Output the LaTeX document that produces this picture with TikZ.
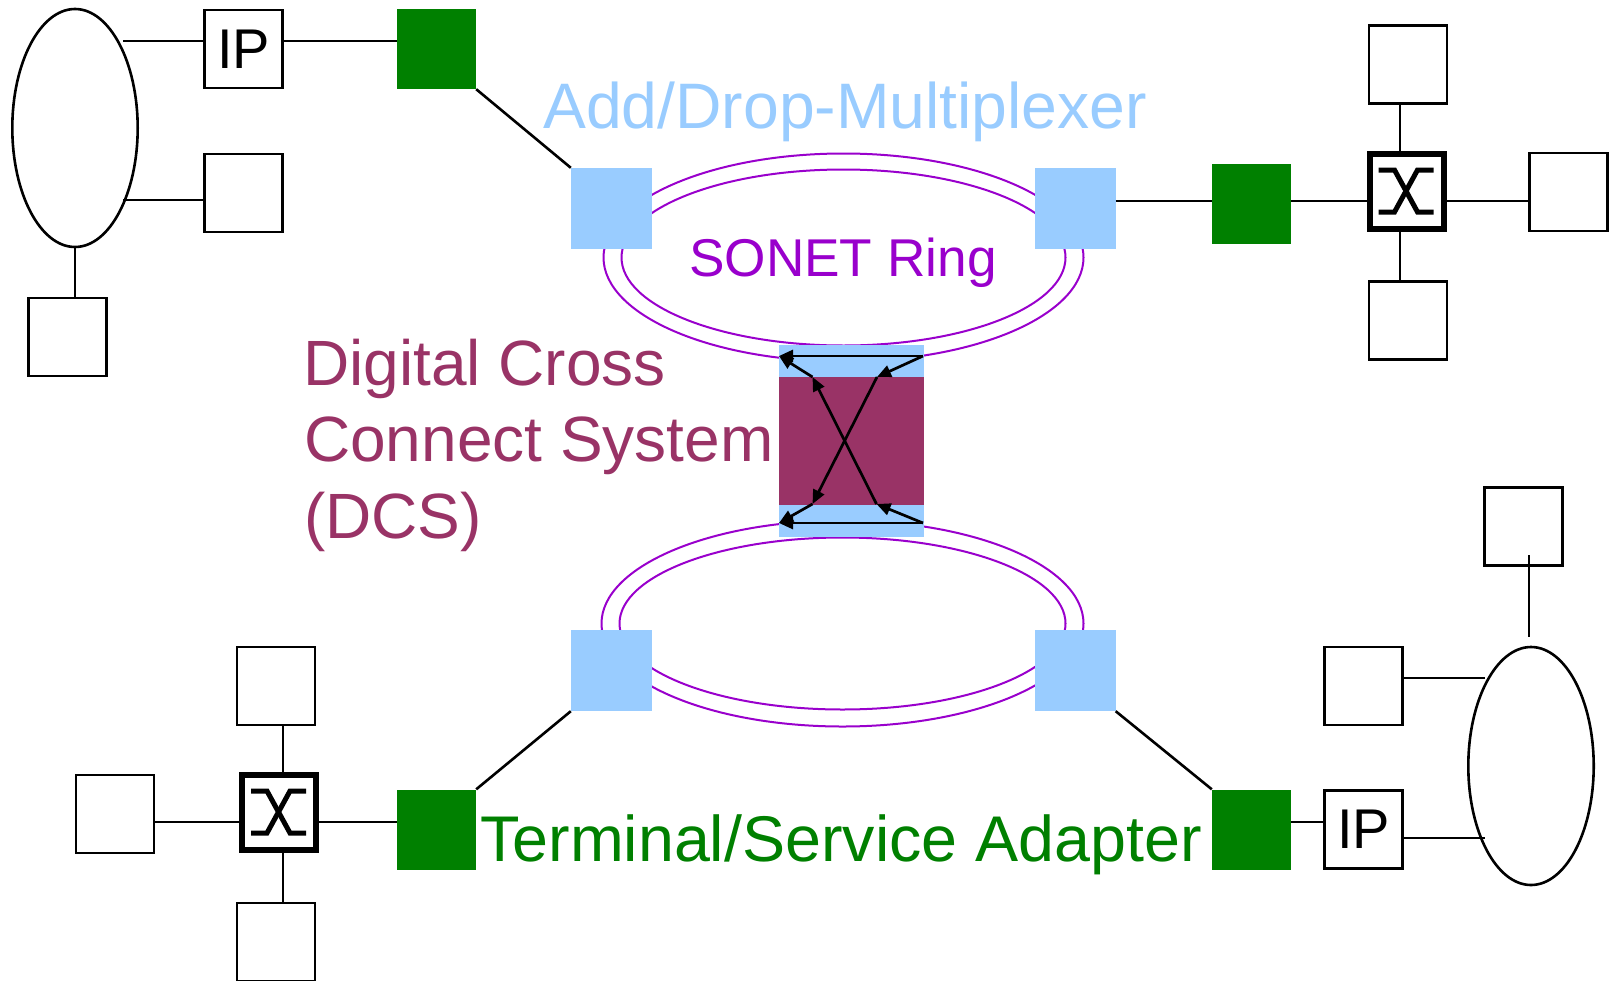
\documentclass[tikz,border=0pt]{standalone}
\usepackage{fontspec}
\setmainfont{Liberation Sans}
\usetikzlibrary{shapes.geometric,calc,arrows.meta}
\definecolor{admblue}{HTML}{99CCFF}
\definecolor{tagreen}{HTML}{008000}
\definecolor{dcsred}{HTML}{993366}
\definecolor{ringpurple}{HTML}{9900CC}
\tikzset{
  conn/.style={line width=2.6pt, draw=black},
  plainbox/.style={draw, line width=2.6pt, minimum width=78pt, minimum height=78pt, inner sep=0pt, font=\fontsize{56}{60}\selectfont},
  greenbox/.style={fill=tagreen, minimum width=79pt, minimum height=80pt, inner sep=0pt},
  admbox/.style={fill=admblue, minimum width=81pt, minimum height=81pt, inner sep=0pt},
  xbox/.style={draw, line width=6pt, minimum width=74pt, minimum height=75pt, inner sep=0pt},
  xsym/.style={line width=5pt},
  hostell/.style={draw, ellipse, line width=2.6pt, minimum width=125.4pt, minimum height=238pt, inner sep=0pt},
  ringline/.style={draw=ringpurple, ellipse, line width=2pt, inner sep=0pt},
  lbl/.style={anchor=base west, inner sep=0pt, font=\fontsize{64}{76}\selectfont},
  dcsarrow/.style={line width=2.7pt, -{Triangle[length=14pt,width=12pt]}},
}
\begin{document}
\begin{tikzpicture}[x=1pt,y=-1pt]
\useasboundingbox (0,0) rectangle (1613,980);

% SONET rings
\node[ringline, minimum width=480pt, minimum height=208pt] (ringTo) at (843.5,257.5) {};
\node[ringline, minimum width=444pt, minimum height=176pt] (ringTi) at (843.5,257.5) {};
\node[ringline, minimum width=482pt, minimum height=206pt] (ringBo) at (842.5,623.5) {};
\node[ringline, minimum width=446pt, minimum height=172pt] (ringBi) at (842.5,623.5) {};

% Add/Drop multiplexers
\node[admbox] (admTL) at (611.5,208.5) {};
\node[admbox] (admTR) at (1075,208.5) {};
\node[admbox] (admBL) at (611.5,670.5) {};
\node[admbox] (admBR) at (1075,670.5) {};

% DCS
\node[fill=admblue, minimum width=145pt, minimum height=192pt, inner sep=0pt] (dcs) at (851.5,441) {};
\node[fill=dcsred, minimum width=145pt, minimum height=128pt, inner sep=0pt] (dcscore) at (851.5,441) {};
\coordinate (pTR) at (923,356);
\coordinate (pTL) at (779,356);
\coordinate (pBR) at (923,523);
\coordinate (pBL) at (779,523);
\coordinate (qTR) at (877,377);
\coordinate (qTL) at (812.5,377);
\coordinate (qBR) at (876.5,504);
\coordinate (qBL) at (812.5,504);
\draw[dcsarrow] (pTR) -- (pTL);
\draw[dcsarrow] (pTR) -- (qTR);
\draw[dcsarrow] (qTR) -- (qBL);
\draw[dcsarrow] (qBL) -- (pBL);
\draw[dcsarrow] (pBR) -- (pBL);
\draw[dcsarrow] (pBR) -- (qBR);
\draw[dcsarrow] (qBR) -- (qTL);
\draw[dcsarrow] (qTL) -- (pTL);

% Top-left group
\node[hostell] (ellTL) at (75,128) {};
\node[plainbox] (ipTL) at (243.5,49) {IP};
\node[plainbox] (hTL2) at (243.5,193) {};
\node[plainbox] (hTL3) at (67.5,337) {};
\node[greenbox] (grTL) at (436.5,49) {};
\draw[conn] ($(ellTL.center)+(48,-87)$) -- ($(ipTL.west)+(0,-8)$);
\draw[conn] ($(ipTL.east)+(0,-8)$) -- ($(grTL.west)+(0,-8)$);
\draw[conn] (grTL.south east) -- (admTL.north west);
\draw[conn] ($(ellTL.center)+(48,72)$) -- ($(hTL2.west)+(0,7)$);
\draw[conn] (ellTL.south) -- (ellTL.south |- hTL3.north);

% Top-right group
\coordinate (rowTR) at (0,201);
\coordinate (colTR) at (1400,0);
\node[greenbox] (grTR) at (1251.5,203.5) {};
\node[xbox] (xTR) at (1406.5,191) {};
\node[plainbox] (hTRu) at (1408,64.5) {};
\node[plainbox] (hTRd) at (1408,320.5) {};
\node[plainbox] (hTRr) at (1568.5,192) {};
\draw[conn] (admTR.east |- rowTR) -- (grTR.west |- rowTR);
\draw[conn] (grTR.east |- rowTR) -- (xTR.west |- rowTR);
\draw[conn] (xTR.east |- rowTR) -- (hTRr.west |- rowTR);
\draw[conn] (hTRu.south -| colTR) -- (xTR.north -| colTR);
\draw[conn] (xTR.south -| colTR) -- (hTRd.north -| colTR);

% Bottom-left group
\coordinate (rowBL) at (0,822);
\coordinate (colBL) at (283,0);
\node[xbox] (xBL) at (279,812) {};
\node[plainbox] (hBLl) at (115,814) {};
\node[plainbox] (hBLu) at (276,686) {};
\node[plainbox] (hBLd) at (276,942) {};
\node[greenbox] (grBL) at (436.5,829.5) {};
\draw[conn] (hBLl.east |- rowBL) -- (xBL.west |- rowBL);
\draw[conn] (xBL.east |- rowBL) -- (grBL.west |- rowBL);
\draw[conn] (hBLu.south -| colBL) -- (xBL.north -| colBL);
\draw[conn] (xBL.south -| colBL) -- (hBLd.north -| colBL);
\draw[conn] (grBL.north east) -- (admBL.south west);

% Bottom-right group
\coordinate (rowBR) at (0,822);
\node[greenbox] (grBR) at (1251.5,829.5) {};
\node[plainbox] (ipBR) at (1363.5,829.5) {IP};
\node[hostell] (ellBR) at (1531,766) {};
\node[plainbox] (hBRm) at (1363.5,686) {};
\node[plainbox] (hBRu) at (1523.5,526.5) {};
\draw[conn] (grBR.north west) -- (admBR.south east);
\draw[conn] (grBR.east |- rowBR) -- (ipBR.west |- rowBR);
\draw[conn] ($(ipBR.east)+(0,8.5)$) -- ($(ellBR.center)+(-46,72)$);
\draw[conn] ($(hBRm.east)+(0,-8)$) -- ($(ellBR.center)+(-46,-88)$);
\draw[conn] ($(hBRu.center)+(5.5,28.5)$) -- ($(ellBR.north)+(-2,-9)$);

% Switch symbols
\foreach \n in {xTR,xBL} {
  \draw[xsym] ($(\n)+(-28,-21)$) -- ($(\n)+(-12,-21)$) -- ($(\n)+(11,21)$) -- ($(\n)+(27,21)$);
  \draw[xsym] ($(\n)+(27,-21)$) -- ($(\n)+(11,-21)$) -- ($(\n)+(-12,21)$) -- ($(\n)+(-28,21)$);
}

% Labels
\node[lbl, text=admblue, font=\fontsize{64.3}{76}\selectfont] (tADM) at (543,128) {Add/Drop-Multiplexer};
\node[lbl, text=ringpurple, font=\fontsize{53.2}{60}\selectfont] (tRing) at (689,276.5) {SONET Ring};
\node[lbl, text=dcsred] (tDCS1) at (303,385) {Digital Cross};
\node[lbl, text=dcsred] (tDCS2) at (304,461.5) {Connect System};
\node[lbl, text=dcsred] (tDCS3) at (304,538) {(DCS)};
\node[lbl, text=tagreen, font=\fontsize{64.6}{76}\selectfont] (tTSA) at (480,861) {Terminal/Service Adapter};
\end{tikzpicture}
\end{document}
